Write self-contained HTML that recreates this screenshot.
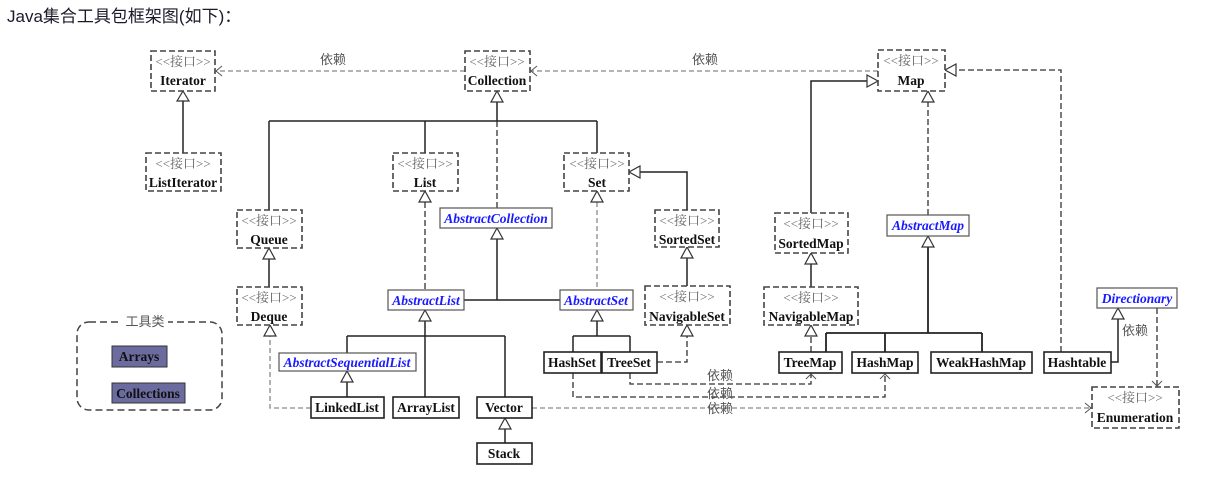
<!DOCTYPE html>
<html><head><meta charset="utf-8"><style>
body{margin:0;background:#fff;width:1223px;height:479px;overflow:hidden}
svg{display:block}
.t{font-family:"Liberation Sans","Noto Sans CJK SC",sans-serif;font-size:17px;fill:#1a1a2a}
.n{font-family:"Liberation Serif","Noto Serif CJK SC",serif;font-weight:bold;font-size:13.5px;fill:#111;text-anchor:middle}
.i{font-family:"Liberation Serif","Noto Serif CJK SC",serif;font-weight:bold;font-style:italic;font-size:13.5px;fill:#1a1aff;text-anchor:middle}
.s{font-family:"Liberation Serif","Noto Serif CJK SC",serif;font-size:13px;fill:#666;text-anchor:middle}
.d{font-family:"Liberation Sans","Noto Sans CJK SC",sans-serif;font-size:13px;fill:#555;text-anchor:middle}
.ib{fill:#fff;stroke:#444;stroke-width:1.6;stroke-dasharray:6 3}
.cb{fill:#fff;stroke:#222;stroke-width:1.6}
.ab{fill:#fff;stroke:#555;stroke-width:1.2}
.l{fill:none;stroke:#222;stroke-width:1.5}
.dl{fill:none;stroke:#333;stroke-width:1.3;stroke-dasharray:6 3}
.gl{fill:none;stroke:#888;stroke-width:1.3;stroke-dasharray:5 3}
.tri{fill:#fff;stroke:#333;stroke-width:1.2}
.st{fill:none;stroke:#555;stroke-width:1}
</style></head><body>
<svg width="1223" height="479" viewBox="0 0 1223 479">
<text x="7" y="22" class="t">Java集合工具包框架图(如下)：</text>

<path class="gl" d="M465 71 H216"/><path class="st" d="M222 66 L216 71 L222 76"/>
<text x="333" y="64" class="d">依赖</text>
<path class="gl" d="M878 71 H531"/><path class="st" d="M537 66 L531 71 L537 76"/>
<text x="705" y="64" class="d">依赖</text>
<path class="l" d="M183 153 V101"/><path class="tri" d="M183 91 L177 101 H189 Z"/>
<path class="l" d="M497 102 V121 M269 121 H597 M269 121 V210 M425 121 V153 M597 121 V153"/>
<path class="tri" d="M497 91 L491 102 H503 Z"/>
<path class="dl" d="M497 121 V208"/>
<path class="dl" d="M425 202 V290"/><path class="tri" d="M425 191 L419 202 H431 Z"/>
<path class="gl" d="M597 202 V290"/><path class="tri" d="M597 191 L591 202 H603 Z"/>
<path class="l" d="M687 210 V172 H640"/><path class="tri" d="M629 172 L640 166 V178 Z"/>
<path class="l" d="M687 286 V258"/><path class="tri" d="M687 247 L681 258 H693 Z"/>
<path class="l" d="M269 287 V259"/><path class="tri" d="M269 248 L263 259 H275 Z"/>
<path class="l" d="M497 239 V300 M464 300 H560"/><path class="tri" d="M497 228 L491 239 H503 Z"/>
<path class="l" d="M425 321 V397 M347 336 H505 M347 336 V353 M505 336 V397"/><path class="tri" d="M425 310 L419 321 H431 Z"/>
<path class="l" d="M347 382 V397"/><path class="tri" d="M347 371 L341 382 H353 Z"/>
<path class="gl" d="M311 408 H270 V336"/><path class="tri" d="M270 325 L264 336 H276 Z"/>
<path class="l" d="M597 321 V336 M573 336 H630 M573 336 V352 M630 336 V352"/><path class="tri" d="M597 310 L591 321 H603 Z"/>
<path class="dl" d="M657 362 H687 V336"/><path class="tri" d="M687 325 L681 336 H693 Z"/>
<path class="l" d="M505 443 V429"/><path class="tri" d="M505 418 L499 429 H511 Z"/>
<path class="gl" d="M532 408 H1091"/><path class="st" d="M1085 403 L1091 408 L1085 413"/>
<text x="720" y="413" class="d">依赖</text>
<path class="dl" d="M630 373 V384 H811 V374"/><path class="st" d="M806 379 L811 374 L816 379"/>
<text x="720" y="380" class="d">依赖</text>
<path class="dl" d="M573 373 V397 H885 V374"/><path class="st" d="M880 379 L885 374 L890 379"/>
<text x="720" y="398" class="d">依赖</text>
<path class="l" d="M811 213 V81 H867"/><path class="tri" d="M878 81 L867 75 V87 Z"/>
<path class="l" d="M811 287 V264"/><path class="tri" d="M811 253 L805 264 H817 Z"/>
<path class="dl" d="M811 352 V336"/><path class="tri" d="M811 325 L805 336 H817 Z"/>
<path class="dl" d="M928 215 V102"/><path class="tri" d="M928 91 L922 102 H934 Z"/>
<path class="l" d="M928 247 V333 M826 333 H982 M826 333 V352 M885 333 V352 M982 333 V352" style="stroke-width:1.8"/>
<path class="tri" d="M928 236 L922 247 H934 Z"/>
<path class="dl" d="M1061 352 V70 H956"/><path class="tri" d="M945 70 L956 64 V76 Z"/>
<path class="l" d="M1111 362 H1118 V319"/><path class="tri" d="M1118 308 L1112 319 H1124 Z"/>
<text x="1135" y="335" class="d">依赖</text>
<path class="dl" d="M1157 308 V386"/><path class="st" d="M1152 381 L1157 386 L1162 381"/>

<g>
<rect class="ib" x="151" y="51" width="64" height="40"/><text x="183" y="66" class="s">&lt;&lt;接口&gt;&gt;</text><text x="183" y="85" class="n">Iterator</text>
<rect class="ib" x="465" y="51" width="65" height="40"/><text x="497" y="66" class="s">&lt;&lt;接口&gt;&gt;</text><text x="497" y="85" class="n">Collection</text>
<rect class="ib" x="878" y="50" width="67" height="41"/><text x="911" y="65" class="s">&lt;&lt;接口&gt;&gt;</text><text x="911" y="85" class="n">Map</text>
<rect class="ib" x="146" y="153" width="75" height="38"/><text x="183" y="168" class="s">&lt;&lt;接口&gt;&gt;</text><text x="183" y="187" class="n">ListIterator</text>
<rect class="ib" x="393" y="153" width="65" height="38"/><text x="425" y="168" class="s">&lt;&lt;接口&gt;&gt;</text><text x="425" y="187" class="n">List</text>
<rect class="ib" x="564" y="153" width="65" height="38"/><text x="597" y="168" class="s">&lt;&lt;接口&gt;&gt;</text><text x="597" y="187" class="n">Set</text>
<rect class="ib" x="237" y="210" width="65" height="38"/><text x="269" y="225" class="s">&lt;&lt;接口&gt;&gt;</text><text x="269" y="244" class="n">Queue</text>
<rect class="ib" x="655" y="210" width="64" height="37"/><text x="687" y="225" class="s">&lt;&lt;接口&gt;&gt;</text><text x="687" y="244" class="n">SortedSet</text>
<rect class="ib" x="775" y="213" width="73" height="40"/><text x="811" y="228" class="s">&lt;&lt;接口&gt;&gt;</text><text x="811" y="248" class="n">SortedMap</text>
<rect class="ib" x="237" y="287" width="65" height="38"/><text x="269" y="302" class="s">&lt;&lt;接口&gt;&gt;</text><text x="269" y="321" class="n">Deque</text>
<rect class="ib" x="645" y="286" width="85" height="39"/><text x="687" y="301" class="s">&lt;&lt;接口&gt;&gt;</text><text x="687" y="321" class="n">NavigableSet</text>
<rect class="ib" x="764" y="287" width="94" height="38"/><text x="811" y="302" class="s">&lt;&lt;接口&gt;&gt;</text><text x="811" y="321" class="n">NavigableMap</text>
<rect class="ib" x="1092" y="387" width="87" height="41"/><text x="1135" y="402" class="s">&lt;&lt;接口&gt;&gt;</text><text x="1135" y="422" class="n">Enumeration</text>
</g>
<rect class="ab" x="440" y="208" width="112" height="20"/><text x="496" y="223" class="i">AbstractCollection</text>
<rect class="ab" x="887" y="215" width="82" height="21"/><text x="928" y="230" class="i">AbstractMap</text>
<rect class="ab" x="388" y="290" width="76" height="20"/><text x="426" y="305" class="i">AbstractList</text>
<rect class="ab" x="560" y="290" width="73" height="20"/><text x="596" y="305" class="i">AbstractSet</text>
<rect class="ab" x="1097" y="288" width="80" height="20"/><text x="1137" y="303" class="i">Directionary</text>
<rect class="ab" x="279" y="353" width="137" height="18"/><text x="347" y="367" class="i">AbstractSequentialList</text>
<rect class="cb" x="544" y="352" width="57" height="21"/><text x="572" y="367" class="n">HashSet</text>
<rect class="cb" x="602" y="352" width="55" height="21"/><text x="629" y="367" class="n">TreeSet</text>
<rect class="cb" x="779" y="352" width="63" height="21"/><text x="810" y="367" class="n">TreeMap</text>
<rect class="cb" x="852" y="352" width="66" height="21"/><text x="885" y="367" class="n">HashMap</text>
<rect class="cb" x="931" y="352" width="101" height="21"/><text x="981" y="367" class="n">WeakHashMap</text>
<rect class="cb" x="1044" y="352" width="67" height="21"/><text x="1077" y="367" class="n">Hashtable</text>
<rect class="cb" x="311" y="397" width="73" height="21"/><text x="347" y="412" class="n">LinkedList</text>
<rect class="cb" x="393" y="397" width="66" height="21"/><text x="426" y="412" class="n">ArrayList</text>
<rect class="cb" x="477" y="397" width="55" height="21"/><text x="504" y="412" class="n">Vector</text>
<rect class="cb" x="477" y="443" width="55" height="21"/><text x="504" y="458" class="n">Stack</text>
<rect x="77" y="322" width="145" height="88" rx="12" fill="none" stroke="#444" stroke-width="1.5" stroke-dasharray="7 4"/>
<rect x="122" y="314" width="46" height="14" fill="#fff"/>
<text x="145" y="326" class="d">工具类</text>
<rect x="112" y="346" width="55" height="21" fill="#6b6b9f" stroke="#333"/><text x="139" y="361" class="n">Arrays</text>
<rect x="112" y="383" width="73" height="20" fill="#6b6b9f" stroke="#333"/><text x="148" y="398" class="n">Collections</text>
</svg>
</body></html>
